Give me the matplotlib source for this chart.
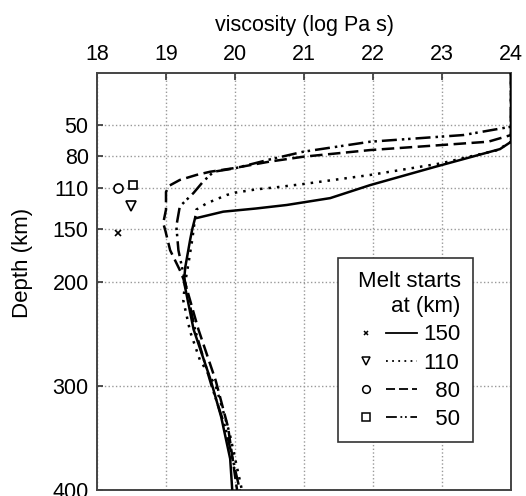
import matplotlib
matplotlib.use('Agg')
import matplotlib.pyplot as plt
from matplotlib.lines import Line2D
from matplotlib.legend_handler import HandlerTuple

plt.rcParams['font.family'] = ['Liberation Sans', 'DejaVu Sans']

# viscosity (log Pa s) vs depth (km), one profile per melt-start depth
visc_150 = [24.0, 24.0, 23.84, 22.9, 21.96, 21.38, 20.75, 20.3, 19.83, 19.42, 19.38, 19.35,
            19.28, 19.26, 19.4, 19.65, 19.8, 19.93, 19.96]
depth_150 = [0, 66, 73, 90, 107.5, 120, 126.6, 130, 133, 139.5, 150, 160,
             186, 200, 246, 295, 330, 370, 400]

visc_110 = [24.0, 24.0, 23.8, 22.99, 21.96, 20.99, 20.6, 20.31, 20.0, 19.88, 19.59, 19.44,
            19.42, 19.38, 19.32, 19.28, 19.25, 19.35, 19.49, 19.72, 19.92, 20.1]
depth_110 = [0, 66, 74, 86.6, 97.8, 106.5, 109.6, 111.6, 114.8, 117, 125, 131,
             140, 160, 185, 200, 218, 248, 275, 300, 345, 400]

visc_80 = [24.0, 24.0, 23.67, 22.8, 21.96, 20.99, 20.5, 19.97, 19.64, 19.44, 19.2, 19.05,
           19.0, 19.0, 18.96, 18.99, 19.06, 19.2, 19.28, 19.47, 19.72, 19.9, 20.03]
depth_80 = [0, 59.5, 65.9, 70, 73.9, 80.3, 85, 91.4, 94.7, 97.8, 102.6, 108,
            114, 131, 144, 151, 170, 189, 202, 246, 295, 340, 400]

visc_50 = [24.0, 24.0, 23.31, 21.96, 20.99, 20.5, 20.0, 19.69, 19.54, 19.4, 19.2, 19.15,
           19.18, 19.25, 19.42, 19.66, 19.86, 20.07]
depth_50 = [0, 51.5, 59.5, 65.9, 75.5, 83, 91.4, 94.7, 104, 115, 128, 147,
            170, 192, 246, 300, 340, 400]

# symbols at the left of the panel
sym_visc = [18.31, 18.49, 18.31, 18.52]
sym_depth = [153, 128, 110, 107]
sym_marker = ['x', 'v', 'o', 's']
sym_size = [4, 7, 6.5, 6]

labels = ['150', '110', '  80', '  50']
styles = ['-', (0, (1, 2.4)), (0, (5, 2.2)), (0, (6, 2, 1, 1.5, 1, 2))]

xticks = [18, 19, 20, 21, 22, 23, 24]
yticks = [50, 80, 110, 150, 200, 300, 400]

fig = plt.figure(figsize=(5.26, 4.96), dpi=100)
ax = fig.add_axes([0.1844, 0.0121, 0.7871, 0.8407])

profiles = [(visc_150, depth_150), (visc_110, depth_110), (visc_80, depth_80), (visc_50, depth_50)]
for (v, d), ls in zip(profiles, styles):
    ax.plot(v, d, color='black', linestyle=ls, linewidth=1.8, zorder=3)

for v, d, m, s in zip(sym_visc, sym_depth, sym_marker, sym_size):
    ax.plot([v], [d], linestyle='none', marker=m, markersize=s, markerfacecolor='white',
            markeredgecolor='black', markeredgewidth=1.2, zorder=3)

ax.set_xlim(18, 24)
ax.set_ylim(400, 0)
ax.set_xticks(xticks)
ax.set_yticks(yticks)
ax.xaxis.tick_top()
ax.xaxis.set_label_position('top')
ax.tick_params(axis='x', direction='in', length=5, width=1.2, pad=6, labelsize=15.5,
               top=True, bottom=False, colors='#333333', labelcolor='black')
ax.tick_params(axis='y', direction='in', length=4, width=1.2, pad=6, labelsize=15.5,
               left=True, right=False, colors='#333333', labelcolor='black')
ax.grid(True, linestyle=':', color='#999999', linewidth=1.0)
for sp in ax.spines.values():
    sp.set_color('#444444')
    sp.set_linewidth(1.4)

ax.set_xlabel('viscosity (log Pa s)', fontsize=15.5, labelpad=9)
ax.set_ylabel('Depth (km)', fontsize=16)
ax.yaxis.set_label_coords(-0.155, 0.545)

handles = []
for m, s, ls in zip(sym_marker, sym_size, styles):
    mk = Line2D([], [], linestyle='none', marker=m, markersize=s * 0.85, markerfacecolor='white',
                markeredgecolor='black', markeredgewidth=1.1)
    ln = Line2D([], [], color='black', linestyle=ls, linewidth=1.3)
    handles.append((mk, ln))

leg = ax.legend(handles, labels, handler_map={tuple: HandlerTuple(ndivide=None, pad=0.2)},
                title='Melt starts\nat (km)', alignment='right', fontsize=16, title_fontsize=16,
                loc='lower right', bbox_to_anchor=(0.908, 0.115), borderaxespad=0,
                handlelength=3.0, handletextpad=0.3, labelspacing=0.32, borderpad=0.55,
                fancybox=False, framealpha=1, edgecolor='#333333')
leg.get_frame().set_linewidth(1.2)
leg.get_title().set_multialignment('right')
leg.get_title().set_linespacing(1.3)
leg.set_zorder(5)

fig.savefig('out.png', dpi=100)
